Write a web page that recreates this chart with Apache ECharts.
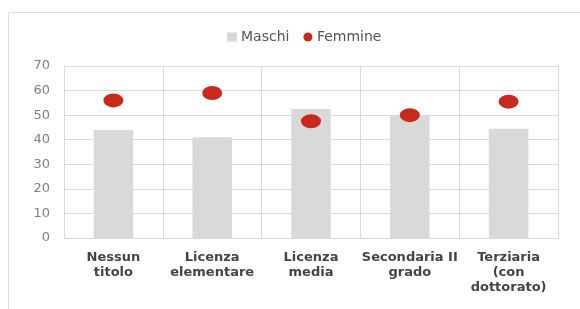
<!DOCTYPE html>
<html>
<head>
<meta charset="utf-8">
<script src="https://cdn.jsdelivr.net/npm/echarts@6/dist/echarts.min.js"></script>
<style>
html, body { margin: 0; padding: 0; background: #fff; }
#chart { width: 580px; height: 309px; }
</style>
</head>
<body>
<div id="chart"></div>
<script>
var categories = ['Nessun\ntitolo', 'Licenza\nelementare', 'Licenza\nmedia', 'Secondaria II\ngrado', 'Terziaria\n(con\ndottorato)'];
var maschi = [44, 41, 52.5, 50, 44.5];
var femmine = [56, 59, 47.5, 50, 55.5];
var yTicks = { min: 0, max: 70, step: 10 };

var dom = document.getElementById("chart");
var myChart = echarts.init(dom);

var option = {
    animation: false,
    graphic: [{
        type: 'polyline',
        shape: { points: [[8.5, 309], [8.5, 12.5], [580, 12.5]] },
        style: { stroke: '#dcdcdc', lineWidth: 1, fill: null }
    }],
    legend: {
        top: 25,
        left: 222,
        itemGap: 14,
        itemWidth: 10,
        itemHeight: 9,
        textStyle: { color: '#555', fontSize: 14, fontFamily: 'DejaVu Sans', padding: [0, 0, 0, -1] },
        data: [
            { name: 'Maschi', icon: 'rect', itemStyle: { color: '#d9d9d9' } },
            { name: 'Femmine', icon: 'circle', itemStyle: { color: '#c9281c' } }
        ]
    },
    grid: { left: 64, right: 22, top: 66, bottom: 71 },
    xAxis: {
        type: 'category',
        data: categories,
        axisLine: { lineStyle: { color: '#d9d9d9' } },
        axisTick: { show: false },
        splitLine: { show: true, lineStyle: { color: '#d9d9d9' } },
        axisLabel: {
            color: '#444',
            fontWeight: 'bold',
            fontSize: 13,
            lineHeight: 15,
            margin: 12,
            fontFamily: 'DejaVu Sans',
            interval: 0
        }
    },
    yAxis: {
        type: 'value',
        min: yTicks.min,
        max: yTicks.max,
        interval: yTicks.step,
        axisLine: { show: true, lineStyle: { color: '#d9d9d9' } },
        axisTick: { show: false },
        splitLine: { lineStyle: { color: '#d9d9d9' } },
        axisLabel: { color: '#808080', fontSize: 13, margin: 14, fontFamily: 'DejaVu Sans' }
    },
    series: [{
        name: 'Maschi',
        type: 'bar',
        barWidth: '40%',
        itemStyle: { color: '#d9d9d9' },
        data: maschi
    }, {
        name: 'Femmine',
        type: 'scatter',
        symbol: 'circle',
        symbolSize: [20, 14],
        itemStyle: { color: '#c9281c', opacity: 1 },
        data: femmine
    }]
};
myChart.setOption(option, true);
</script>
</body>
</html>
